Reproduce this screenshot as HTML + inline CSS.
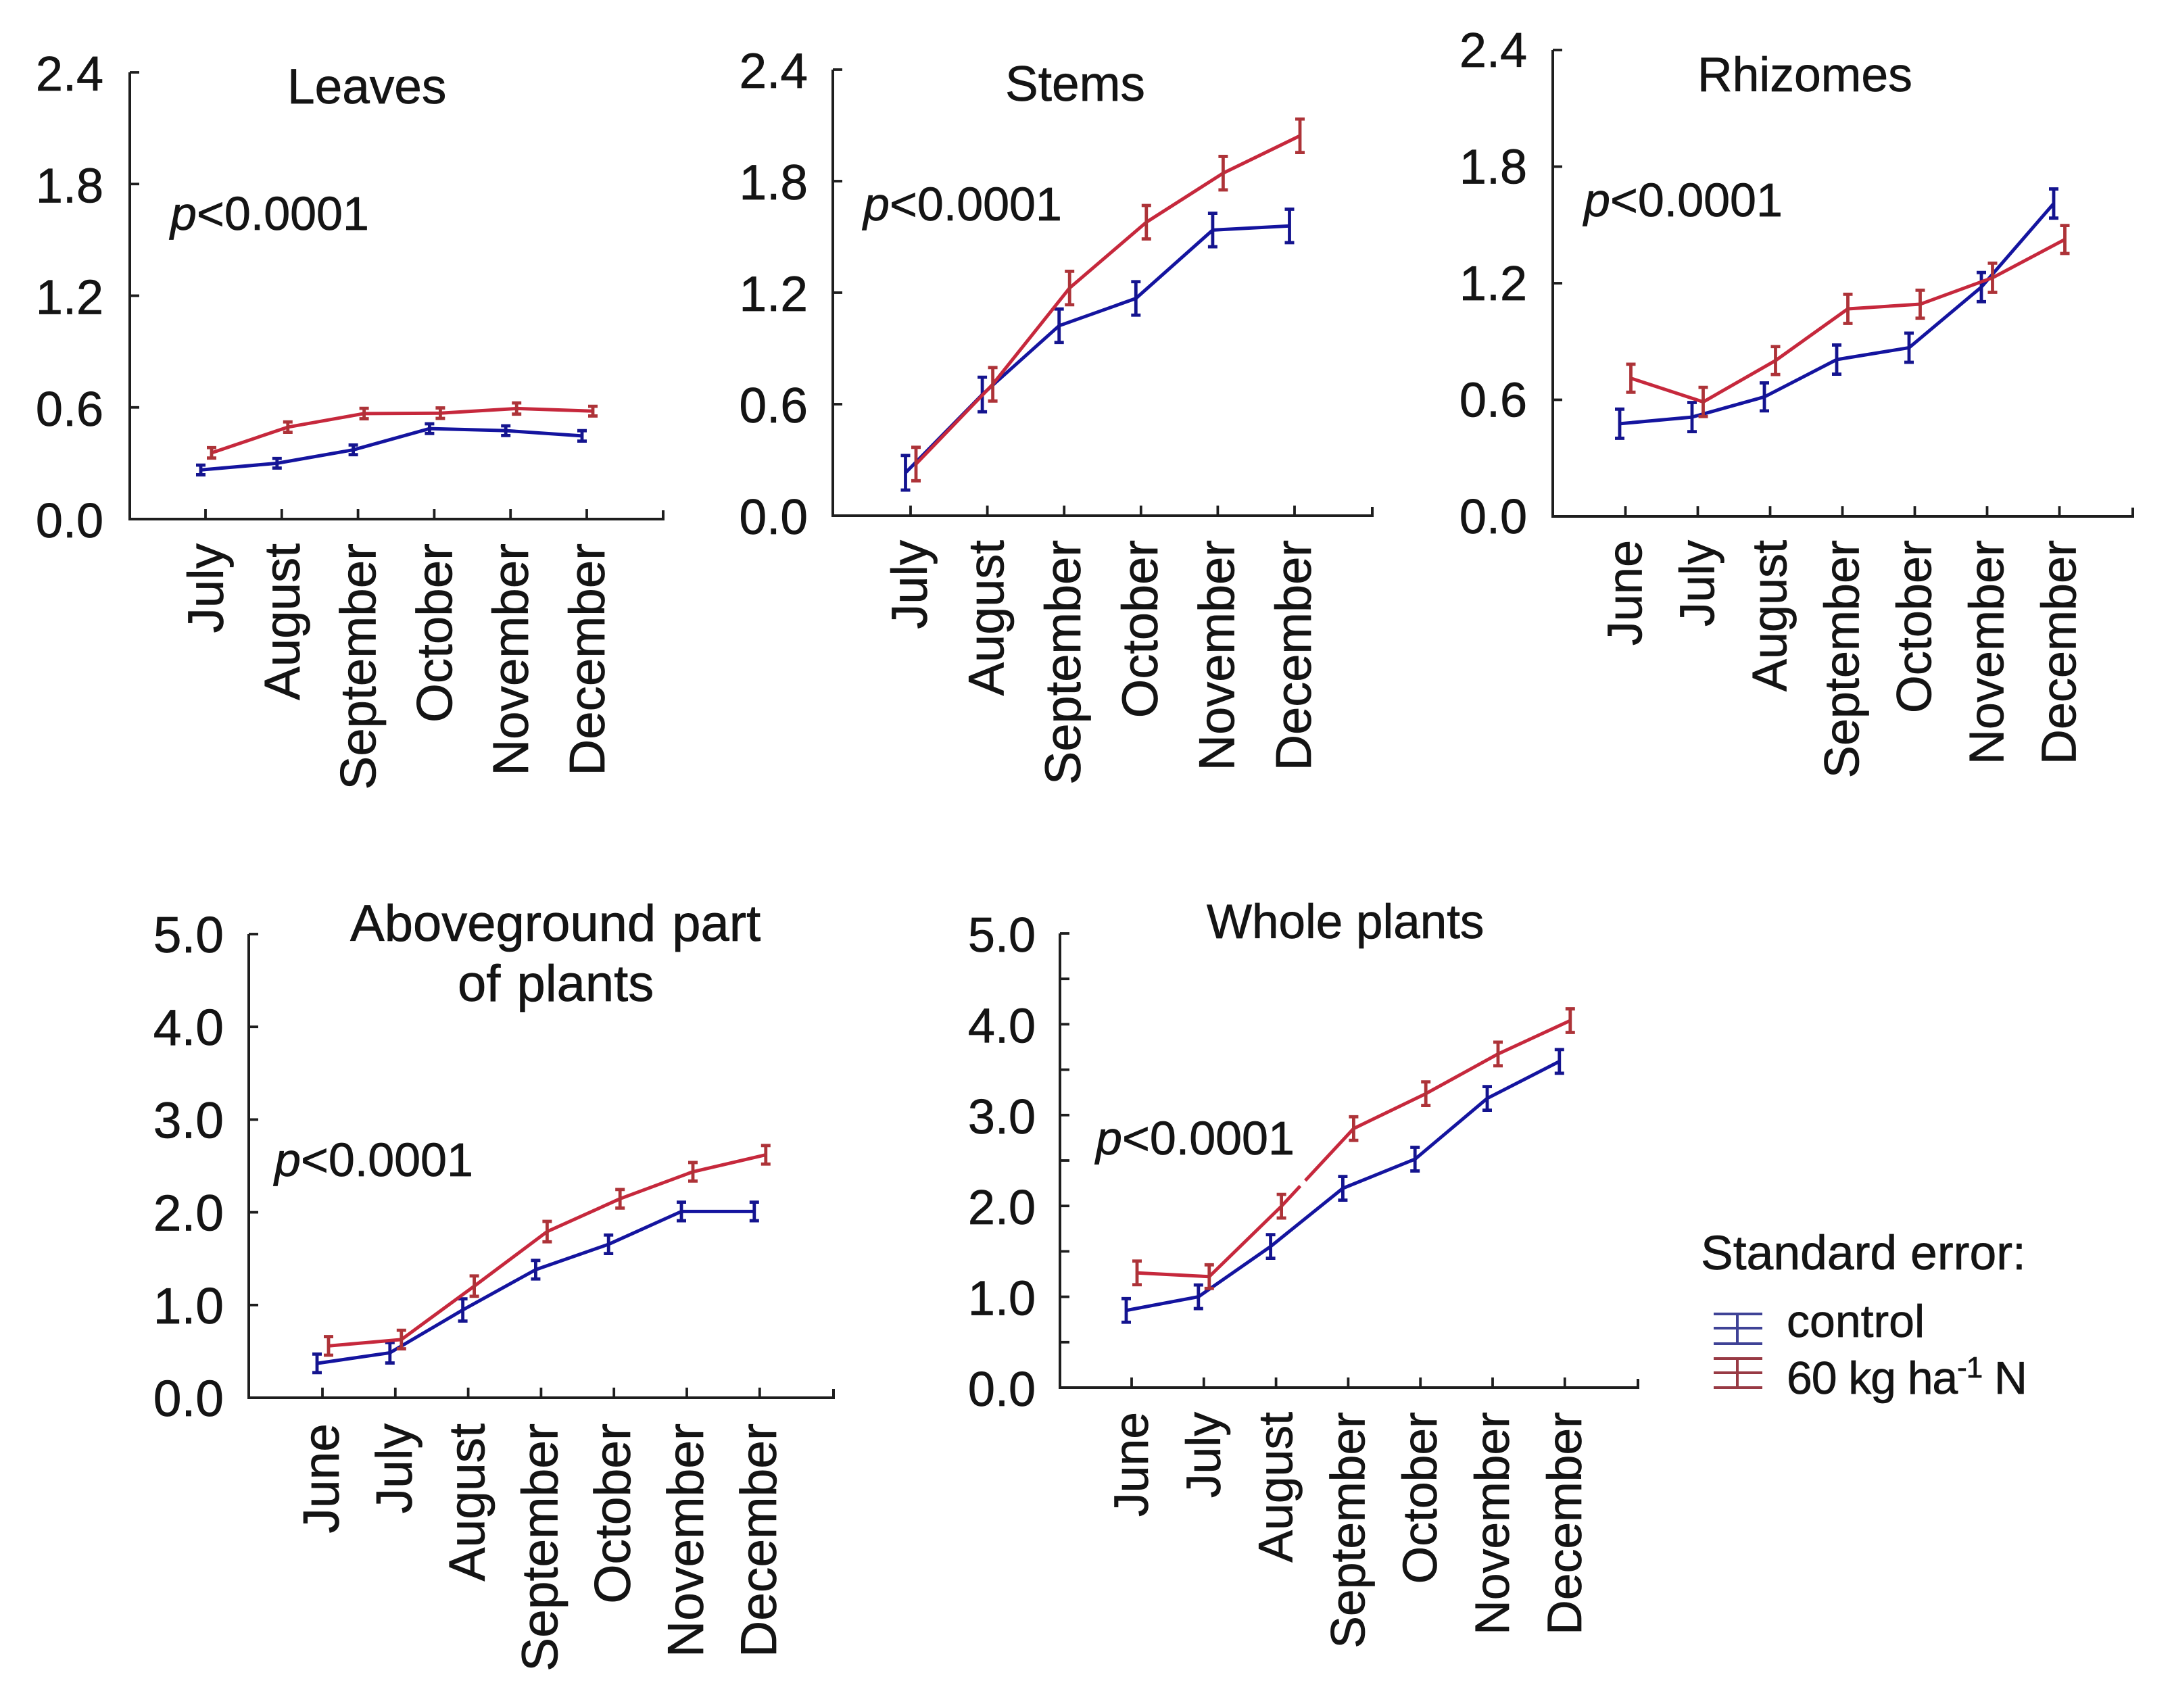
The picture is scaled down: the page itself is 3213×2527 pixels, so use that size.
<!DOCTYPE html>
<html lang="en">
<head>
<meta charset="utf-8">
<title>Biomass by month, control vs 60 kg ha-1 N</title>
<style>
  html, body { margin: 0; padding: 0; background: #fff; }
  svg { display: block; }
  text { font-family: "Liberation Sans", Arial, sans-serif; fill: #141414; stroke: #141414; stroke-width: 0.7px; }
</style>
</head>
<body>
<svg id="figure" xmlns="http://www.w3.org/2000/svg" width="3213" height="2527" viewBox="0 0 3213 2527">
  <rect x="0" y="0" width="3213" height="2527" fill="#fff"/>

  <text x="425" y="153" font-size="73">Leaves</text>
  <text x="1487" y="149" font-size="73">Stems</text>
  <text x="2511" y="135" font-size="71.5">Rhizomes</text>
  <text x="518" y="1392" font-size="76" word-spacing="3">Aboveground part</text>
  <text x="677" y="1481" font-size="76" word-spacing="3">of plants</text>
  <text x="1785" y="1388" font-size="71">Whole plants</text>

  <text x="252" y="340" font-size="70"><tspan font-style="italic">p</tspan>&lt;0.0001</text>
  <text x="1277" y="326" font-size="70"><tspan font-style="italic">p</tspan>&lt;0.0001</text>
  <text x="2343" y="320" font-size="70"><tspan font-style="italic">p</tspan>&lt;0.0001</text>
  <text x="406" y="1740" font-size="70"><tspan font-style="italic">p</tspan>&lt;0.0001</text>
  <text x="1621" y="1708" font-size="70"><tspan font-style="italic">p</tspan>&lt;0.0001</text>

  <g id="panels"></g>

  <g>
    <text x="2516" y="1878" font-size="71.5">Standard error:</text>
    <g stroke="#3f4296" stroke-width="4" fill="none">
      <line x1="2535" x2="2607" y1="1944" y2="1944"/>
      <line x1="2535" x2="2607" y1="1965" y2="1965"/>
      <line x1="2535" x2="2607" y1="1988" y2="1988"/>
      <line x1="2570" x2="2570" y1="1944" y2="1988"/>
    </g>
    <text x="2643" y="1978" font-size="68">control</text>
    <g stroke="#983a44" stroke-width="4" fill="none">
      <line x1="2535" x2="2607" y1="2010" y2="2010"/>
      <line x1="2535" x2="2607" y1="2031" y2="2031"/>
      <line x1="2535" x2="2607" y1="2053" y2="2053"/>
      <line x1="2570" x2="2570" y1="2010" y2="2053"/>
    </g>
    <text x="2643" y="2062" font-size="68" textLength="356" lengthAdjust="spacing">60 kg ha<tspan font-size="44" dy="-24">-1</tspan><tspan dy="24"> N</tspan></text>
  </g>
</svg>

<script>
// ---- Shared category and tick data ----
const monthsSixCategories = ['July', 'August', 'September', 'October', 'November', 'December'];
const monthsSevenCategories = ['June', 'July', 'August', 'September', 'October', 'November', 'December'];
const organTickValues = [0, 0.6, 1.2, 1.8, 2.4];
const organTickLabels = ['0.0', '0.6', '1.2', '1.8', '2.4'];
const plantTickValues = [0, 1, 2, 3, 4, 5];
const plantTickLabels = ['0.0', '1.0', '2.0', '3.0', '4.0', '5.0'];
const wholeMinorTickValues = [0.5, 1.5, 2.5, 3.5, 4.5];

// ---- Leaves ----
const leavesControl = [0.264, 0.30, 0.372, 0.486, 0.475, 0.447];
const leavesControlErr = [0.026, 0.026, 0.026, 0.026, 0.026, 0.028];
const leavesTreated = [0.356, 0.494, 0.567, 0.569, 0.594, 0.58];
const leavesTreatedErr = [0.028, 0.028, 0.028, 0.028, 0.03, 0.026];

// ---- Stems ----
const stemsControl = [0.231, 0.652, 1.022, 1.169, 1.537, 1.559];
const stemsControlErr = [0.093, 0.093, 0.09, 0.09, 0.09, 0.09];
const stemsTreated = [0.278, 0.707, 1.225, 1.579, 1.843, 2.044];
const stemsTreatedErr = [0.09, 0.09, 0.09, 0.09, 0.09, 0.09];

// ---- Rhizomes ----
const rhizomesControl = [0.477, 0.511, 0.615, 0.807, 0.868, 1.18, 1.61];
const rhizomesControlErr = [0.075, 0.075, 0.072, 0.075, 0.075, 0.075, 0.075];
const rhizomesTreated = [0.711, 0.589, 0.802, 1.068, 1.092, 1.228, 1.425];
const rhizomesTreatedErr = [0.072, 0.075, 0.072, 0.075, 0.072, 0.075, 0.072];

// ---- Aboveground part ----
const abovegroundControl = [0.371, 0.485, 0.947, 1.381, 1.655, 2.009, 2.009];
const abovegroundControlErr = [0.1, 0.11, 0.12, 0.1, 0.1, 0.1, 0.1];
const abovegroundTreated = [0.559, 0.628, 1.204, 1.792, 2.146, 2.437, 2.62];
const abovegroundTreatedErr = [0.1, 0.1, 0.11, 0.11, 0.1, 0.1, 0.1];

// ---- Whole plants ----
const wholeControl = [0.85, 1.0, 1.554, 2.194, 2.515, 3.184, 3.591];
const wholeControlErr = [0.13, 0.13, 0.13, 0.13, 0.13, 0.13, 0.13];
const wholeTreated = [1.263, 1.222, 1.997, 2.852, 3.236, 3.673, 4.04];
const wholeTreatedErr = [0.13, 0.13, 0.13, 0.13, 0.13, 0.13, 0.13];

const BLUE = '#14149f';
const BLUE_ERR = '#14148f';
const RED = '#c6283c';
const RED_ERR = '#ad3338';
const AXIS = '#1e1e1e';
const NS = 'http://www.w3.org/2000/svg';
const root = document.getElementById('panels');

function svgEl(tag, attrs, parent) {
  const el = document.createElementNS(NS, tag);
  for (const k in attrs) el.setAttribute(k, attrs[k]);
  parent.appendChild(el);
  return el;
}

function drawSeries(g, slug, seriesSlug, values, errs, color, errColor, xOf, yOf, capHalf, gap) {
  const series = svgEl('g', { fill: 'none' }, g);
  
  

  const pts = values.map(function (v, i) { return xOf(i) + ',' + yOf(v); }).join(' ');
  const line = svgEl('polyline', { points: pts, stroke: color, 'stroke-width': 5, 'stroke-linejoin': 'round' }, series);
  
  

  if (gap) {
    const a = gap.index;
    const x1 = xOf(a), y1 = yOf(values[a]), x2 = xOf(a + 1), y2 = yOf(values[a + 1]);
    const erase = svgEl('line', {
      x1: x1 + (x2 - x1) * gap.from, y1: y1 + (y2 - y1) * gap.from,
      x2: x1 + (x2 - x1) * gap.to, y2: y1 + (y2 - y1) * gap.to,
      stroke: '#fff', 'stroke-width': 9
    }, series);
    
    
  }

  values.forEach(function (v, i) {
    const x = xOf(i), top = yOf(v + errs[i]), bottom = yOf(v - errs[i]);
    const bar = svgEl('path', {
      d: 'M' + (x - capHalf) + ' ' + top + 'H' + (x + capHalf) +
         'M' + x + ' ' + top + 'V' + bottom +
         'M' + (x - capHalf) + ' ' + bottom + 'H' + (x + capHalf),
      stroke: errColor,
      'stroke-width': 4.8
    }, series);
    
    
  });
}

function drawPanel(p) {
  const g = svgEl('g', {}, root);
  
  

  const yOf = function (v) { return p.baseline - (v / p.yMax) * (p.baseline - p.top); };
  const tickX = function (i) { return p.x0 + i * p.dx; };

  const axes = svgEl('path', {
    d: 'M' + p.axisX + ' ' + p.top + 'V' + p.baseline + 'H' + p.right + 'V' + (p.baseline - 13),
    fill: 'none', stroke: AXIS, 'stroke-width': 4
  }, g);
  
  

  p.ticks.forEach(function (v, i) {
    const tick = svgEl('line', {
      x1: p.axisX, x2: p.axisX + 14, y1: yOf(v), y2: yOf(v), stroke: AXIS, 'stroke-width': 3.8
    }, g);
    
    

    const label = svgEl('text', {
      x: p.labelRight, y: yOf(v) + 27 + p.labelShift, 'font-size': p.labelFont, 'text-anchor': 'end'
    }, g);
    label.textContent = p.tickLabels[i];
    
    
  });

  (p.minorTicks || []).forEach(function (v) {
    const tick = svgEl('line', {
      x1: p.axisX, x2: p.axisX + 14, y1: yOf(v), y2: yOf(v), stroke: AXIS, 'stroke-width': 3.8
    }, g);
    
    
  });

  p.months.forEach(function (m, i) {
    const x = tickX(i);
    const tick = svgEl('line', {
      x1: x, x2: x, y1: p.baseline, y2: p.baseline - 15, stroke: AXIS, 'stroke-width': 3.8
    }, g);
    
    

    const bx = x + p.monthShift, by = p.baseline + p.monthGap;
    const label = svgEl('text', {
      x: bx, y: by, 'font-size': p.monthFont, 'text-anchor': 'end',
      transform: 'rotate(-90 ' + bx + ' ' + by + ')'
    }, g);
    label.textContent = m;
    
    
  });

  const xControl = function (i) { return tickX(i) + p.controlShift; };
  const xTreated = function (i) { return tickX(i) + p.treatedShift; };
  drawSeries(g, p.slug, 'control', p.control, p.controlErr, BLUE, BLUE_ERR, xControl, yOf, p.capHalf, null);
  drawSeries(g, p.slug, 'treated', p.treated, p.treatedErr, RED, RED_ERR, xTreated, yOf, p.capHalf, p.gap);
}

[
  { slug: 'leaves', months: monthsSixCategories, ticks: organTickValues, tickLabels: organTickLabels, yMax: 2.4,
    control: leavesControl, controlErr: leavesControlErr, treated: leavesTreated, treatedErr: leavesTreatedErr,
    axisX: 192, top: 107, baseline: 768, right: 981, x0: 304, dx: 112.8, labelRight: 153, labelFont: 72, labelShift: 0,
    controlShift: -7, treatedShift: 9, monthShift: 26, monthGap: 36, monthFont: 74.5, capHalf: 7 },
  { slug: 'stems', months: monthsSixCategories, ticks: organTickValues, tickLabels: organTickLabels, yMax: 2.4,
    control: stemsControl, controlErr: stemsControlErr, treated: stemsTreated, treatedErr: stemsTreatedErr,
    axisX: 1232, top: 103, baseline: 763, right: 2030, x0: 1347, dx: 113.6, labelRight: 1195, labelFont: 73, labelShift: 0,
    controlShift: -7.5, treatedShift: 8, monthShift: 24, monthGap: 36, monthFont: 74, capHalf: 7 },
  { slug: 'rhizomes', months: monthsSevenCategories, ticks: organTickValues, tickLabels: organTickLabels, yMax: 2.4,
    control: rhizomesControl, controlErr: rhizomesControlErr, treated: rhizomesTreated, treatedErr: rhizomesTreatedErr,
    axisX: 2297, top: 74, baseline: 764, right: 3155, x0: 2404.5, dx: 107, labelRight: 2259, labelFont: 72, labelShift: -2,
    controlShift: -8.5, treatedShift: 8, monthShift: 24, monthGap: 35, monthFont: 72, capHalf: 7 },
  { slug: 'aboveground', months: monthsSevenCategories, ticks: plantTickValues, tickLabels: plantTickLabels, yMax: 5,
    control: abovegroundControl, controlErr: abovegroundControlErr, treated: abovegroundTreated, treatedErr: abovegroundTreatedErr,
    axisX: 368, top: 1382, baseline: 2068, right: 1233, x0: 477, dx: 107.8, labelRight: 331, labelFont: 75, labelShift: 0,
    controlShift: -8, treatedShift: 9, monthShift: 24, monthGap: 38, monthFont: 75, capHalf: 7 },
  { slug: 'whole-plants', months: monthsSevenCategories, ticks: plantTickValues, tickLabels: plantTickLabels, yMax: 5, minorTicks: wholeMinorTickValues,
    control: wholeControl, controlErr: wholeControlErr, treated: wholeTreated, treatedErr: wholeTreatedErr,
    axisX: 1568, top: 1381, baseline: 2053, right: 2423, x0: 1674, dx: 106.8, labelRight: 1532, labelFont: 72, labelShift: 0,
    controlShift: -8, treatedShift: 8, monthShift: 24, monthGap: 36, monthFont: 71.5, capHalf: 7,
    gap: { index: 2, from: 0.26, to: 0.33 } }
].forEach(drawPanel);
</script>
</body>
</html>
